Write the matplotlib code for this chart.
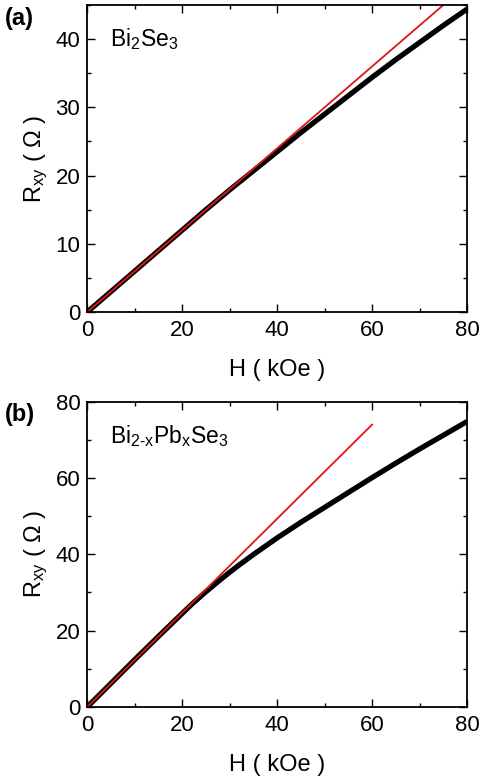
import matplotlib
matplotlib.use("Agg")
import matplotlib.pyplot as plt
from matplotlib.ticker import MultipleLocator

plt.rcParams["font.family"] = ["Liberation Sans", "DejaVu Sans"]
plt.rcParams["mathtext.fontset"] = "custom"
plt.rcParams["mathtext.rm"] = "Liberation Sans"
plt.rcParams["mathtext.it"] = "Liberation Sans"

# panel (a): Bi2Se3
h_a = [0, 5, 10, 15, 20, 25, 30, 35, 40, 45, 50, 55, 60, 65, 70, 75, 80]
r_a = [0, 3.0, 6.0, 9.0, 12.0, 15.0, 17.9, 20.7, 23.5, 26.3, 29.0, 31.7, 34.4, 37.0, 39.5, 42.0, 44.4]
fit_h_a = [0, 75]
fit_r_a = [0, 45]

# panel (b): Bi2-xPbxSe3
h_b = [0, 5, 10, 15, 20, 22, 25, 28, 30, 32, 35, 38, 40, 45, 50, 55, 60, 65, 70, 75, 80]
r_b = [0, 6.2, 12.4, 18.5, 24.5, 26.9, 30.2, 33.3, 35.3, 37.2, 39.95, 42.55, 44.3, 48.4, 52.3, 56.2, 60.1, 63.9, 67.6, 71.2, 74.8]
fit_h_b = [0, 60]
fit_r_b = [0, 74]

fig = plt.figure(figsize=(4.82, 7.83), dpi=100)
ax_a = fig.add_axes([0.181, 0.6015, 0.788, 0.3921])
ax_b = fig.add_axes([0.181, 0.0971, 0.788, 0.3899])

panels = [
    (ax_a, h_a, r_a, fit_h_a, fit_r_a, 45, 10, 5, r"Bi$_{2}$Se$_{3}$", "(a)"),
    (ax_b, h_b, r_b, fit_h_b, fit_r_b, 80, 20, 10, "Bi$_{\\mathrm{2\u2010x}}$Pb$_{\\mathrm{x}}$Se$_{3}$", "(b)"),
]

for ax, h, r, fh, fr, ytop, ymaj, ymin, name, tag in panels:
    ax.plot(h, r, color="black", lw=3.8, solid_capstyle="butt")
    ax.plot(fh, fr, color="#e0141c", lw=1.3)
    ax.set_xlim(0, 80)
    ax.set_ylim(0, ytop)
    ax.xaxis.set_major_locator(MultipleLocator(20))
    ax.xaxis.set_minor_locator(MultipleLocator(10))
    ax.yaxis.set_major_locator(MultipleLocator(ymaj))
    ax.yaxis.set_minor_locator(MultipleLocator(ymin))
    ax.tick_params(which="both", direction="in", top=True, right=True, width=1.0)
    ax.tick_params(which="major", length=5.5, labelsize=16)
    ax.tick_params(axis="x", which="major", pad=6)
    ax.tick_params(axis="y", which="major", pad=5)
    ax.tick_params(which="minor", length=3)
    for sp in ax.spines.values():
        sp.set_linewidth(1.3)
    ax.set_xlabel("H ( kOe )", fontsize=17, labelpad=13)
    ax.set_ylabel(r"R$_{\mathrm{xy}}$ ( Ω )", fontsize=17, labelpad=4)
    ax.text(0.06, 0.93, name, transform=ax.transAxes, fontsize=16.5, va="top", ha="left")
    bb = ax.get_position()
    fig.text(0.01, bb.y1 - 0.002, tag, fontsize=17, fontweight="bold", va="top", ha="left")

fig.savefig("out.png", dpi=100)
